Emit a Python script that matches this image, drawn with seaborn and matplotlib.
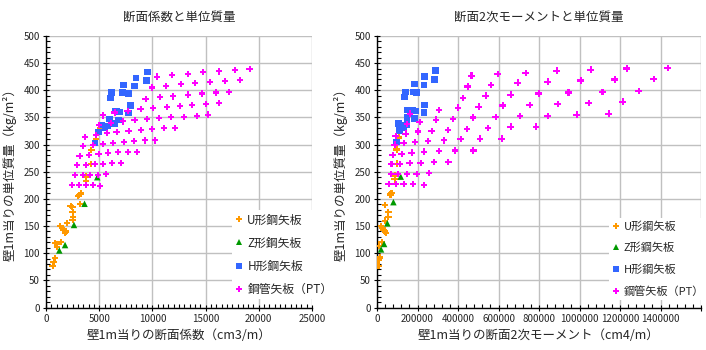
import matplotlib
matplotlib.use('Agg')
import matplotlib.pyplot as plt
from matplotlib.ticker import MultipleLocator
import numpy as np
import pandas as pd
import seaborn as sns

# 系列名
types = ['U形鋼矢板', 'Z形鋼矢板', 'H形鋼矢板', '鋼管矢板（PT）']

# ---- 断面係数 (cm3/m) と単位質量 (kg/m2) ----
u_z = [630, 720, 850, 1030, 1060, 850, 1410, 1350, 1500, 1630, 1790, 1880, 1970,
       2320, 2470, 2500, 2520, 2500, 3000, 3100, 3190, 3270, 3760, 3760, 4260,
       4260, 4700, 5100]
u_z_mass = [76, 84, 91, 111, 117, 119, 121, 150, 146, 142, 137, 140, 156,
            187, 185, 176, 167, 161, 205, 207, 191, 210, 233, 241, 264,
            290, 311, 331]

z_z = [1250, 1790, 2630, 3620, 4820]
z_z_mass = [105, 115, 152, 191, 240]

h_z = [9560, 8460, 9460, 7300, 8330, 6170, 7200, 7770, 6080, 7960, 6480,
       6640, 6920, 7770, 5990, 6830, 6450, 5240, 5830, 5550, 4950, 4600]
h_z_mass = [434, 423, 418, 410, 408, 396, 396, 394, 386, 372, 362,
            362, 360, 358, 347, 345, 339, 336, 334, 331, 323, 303]

pt_z = [10430, 11840, 13350, 14760, 16260, 17760, 19140,
        9960, 11280, 12690, 14000, 15410, 16820, 18230,
        9370, 10710, 11940, 13350, 14660, 15980, 17200,
        5360, 6450, 7680, 8900, 10060, 11370, 12590, 13720, 15040, 16260,
        4980, 6110, 7230, 8330, 9490, 10620, 11750, 12970, 14190, 15225,
        3670, 4700, 5730, 6640, 7770, 8930, 9960, 11090, 12120,
        3480, 4420, 5360, 6300, 7330, 8270, 9300, 10240,
        3160, 4040, 4950, 5830, 6770, 7710, 8550,
        2910, 3760, 4570, 5360, 6200, 7050,
        2720, 3480, 4130, 4890, 5640,
        2440, 3100, 3760, 4420, 5080]
pt_z_mass = [425, 428, 430, 434, 435, 437, 439,
             405, 408, 412, 413, 415, 417, 419,
             384, 388, 389, 392, 394, 396, 397,
             354, 359, 362, 366, 367, 369, 371, 373, 375, 377,
             336, 340, 343, 345, 347, 349, 351, 351, 353, 355,
             314, 318, 321, 323, 325, 327, 329, 331, 331,
             297, 299, 301, 303, 305, 307, 308, 308,
             279, 281, 283, 285, 286, 286, 286,
             262, 262, 264, 264, 266, 266,
             244, 244, 244, 244, 246,
             226, 226, 226, 226, 224]

# ---- 断面2次モーメント (cm4/m) と単位質量 (kg/m2) ----
u_i = [7000, 7000, 15000, 10000, 23000, 40000, 31000, 20000, 28000, 45000, 40000,
       56000, 56000, 40000, 67000, 72000, 87000, 89000, 97000, 97000, 107000, 110000]
u_i_mass = [76, 87, 92, 113, 121, 140, 143, 150, 146, 137, 160,
            167, 176, 189, 208, 211, 236, 243, 265, 291, 313, 331]

z_i = [20000, 35000, 51000, 81000, 117000]
z_i_mass = [107, 117, 155, 194, 241]

h_i = [290000, 235000, 285000, 186000, 231000, 142000, 181000, 196000, 137000,
       235000, 147000, 176000, 191000, 231000, 147000, 186000, 107000, 147000,
       117000, 132000, 112000, 97000]
h_i_mass = [436, 425, 420, 412, 410, 397, 397, 396, 388,
            373, 364, 364, 362, 359, 350, 348, 339, 337,
            335, 331, 326, 305]

pt_i = [467000, 596000, 734000, 887000, 1055000, 1233000, 1435000,
        448000, 562000, 695000, 843000, 1006000, 1174000, 1366000,
        425000, 537000, 660000, 798000, 946000, 1114000, 1292000,
        163000, 306000, 400000, 502000, 621000, 754000, 892000, 1045000, 1213000,
        147000, 211000, 291000, 375000, 474000, 586000, 705000, 843000, 986000, 1144000,
        92000, 142000, 202000, 270000, 351000, 444000, 547000, 660000, 784000,
        87000, 132000, 188000, 252000, 331000, 413000, 509000, 616000,
        77000, 122000, 171000, 232000, 306000, 385000, 476000,
        72000, 112000, 161000, 216000, 281000, 352000,
        68000, 102000, 147000, 196000, 257000,
        58000, 92000, 132000, 178000, 232000]
pt_i_mass = [427, 430, 432, 436, 438, 440, 441,
             407, 410, 414, 416, 418, 420, 421,
             386, 390, 392, 394, 396, 397, 399,
             357, 364, 368, 370, 372, 373, 375, 377, 379,
             338, 342, 346, 347, 350, 351, 353, 353, 355, 357,
             316, 320, 324, 325, 327, 329, 331, 333, 333,
             300, 303, 305, 307, 308, 310, 311, 311,
             281, 283, 285, 287, 288, 289, 289,
             264, 264, 266, 266, 268, 268,
             246, 246, 246, 246, 248,
             227, 227, 227, 227, 226]

x_ticks_z = [0, 5000, 10000, 15000, 20000, 25000]
x_ticks_i = [0, 200000, 400000, 600000, 800000, 1000000, 1200000, 1400000, 1600000]
y_ticks = list(range(0, 501, 50))


def make_df(series):
    frames = []
    for name, (xs, ys) in zip(types, series):
        frames.append(pd.DataFrame({'x': xs, 'mass': ys, 'type': name}))
    return pd.concat(frames, ignore_index=True)


df_z = make_df([(u_z, u_z_mass), (z_z, z_z_mass), (h_z, h_z_mass), (pt_z, pt_z_mass)])
df_i = make_df([(u_i, u_i_mass), (z_i, z_i_mass), (h_i, h_i_mass), (pt_i, pt_i_mass)])

sns.set_theme(style='white')
plt.rcParams['font.family'] = ['Noto Sans CJK JP', 'DejaVu Sans']

palette = {'U形鋼矢板': '#FF9900', 'Z形鋼矢板': '#009900',
           'H形鋼矢板': '#3366FF', '鋼管矢板（PT）': '#FF00FF'}
markers = {'U形鋼矢板': 'P', 'Z形鋼矢板': '^',
           'H形鋼矢板': 's', '鋼管矢板（PT）': 'P'}

W, H = 706, 350
fig = plt.figure(figsize=(W / 100, H / 100), dpi=100)
ax1 = fig.add_axes([46 / W, 1 - 307.5 / H, 266 / W, 271.5 / H])
ax2 = fig.add_axes([377 / W, 1 - 307.5 / H, 324 / W, 271.5 / H])

ylabel = '壁1m当りの単位質量（kg/m²）'
setups = [
    (ax1, df_z, 25000, x_ticks_z, 500, '断面係数と単位質量', '壁1m当りの断面係数（cm3/m）', 0.677, 8.5, 0.86),
    (ax2, df_i, 1600000, x_ticks_i, 40000, '断面2次モーメントと単位質量', '壁1m当りの断面2次モーメント（cm4/m）', 0.70, 8, 0.98),
]

for ax, df, xmax, xt, minor, title, xlabel, leg_x, leg_fs, leg_sp in setups:
    sns.scatterplot(data=df, x='x', y='mass', hue='type', style='type',
                    hue_order=types, style_order=types, palette=palette,
                    markers=markers, s=22, linewidth=0, ax=ax, zorder=3)
    ax.set_xlim(0, xmax)
    ax.set_ylim(0, 500)
    ax.set_xticks(xt)
    labels = [str(v) for v in xt]
    if xmax == 1600000:
        labels[-1] = ''
    ax.set_xticklabels(labels)
    ax.set_yticks(y_ticks)
    ax.xaxis.set_minor_locator(MultipleLocator(minor))
    ax.yaxis.set_minor_locator(MultipleLocator(10))
    ax.grid(True, which='major', color='#C0C0C0', linewidth=1)
    ax.set_axisbelow(True)
    for side in ['top', 'right']:
        ax.spines[side].set_visible(False)
    for side in ['left', 'bottom']:
        ax.spines[side].set_color('black')
        ax.spines[side].set_linewidth(1)
    ax.tick_params(which='major', direction='inout', length=5, width=0.8,
                   labelsize=7, color='black', pad=2,
                   left=True, bottom=True)
    ax.tick_params(which='minor', direction='in', length=3, width=0.8,
                   color='black', left=True, bottom=True)
    ax.set_title(title, fontsize=9, pad=11)
    ax.set_xlabel(xlabel, fontsize=9, labelpad=4)
    ax.set_ylabel(ylabel, fontsize=9, labelpad=5)

    handles, labs = ax.get_legend_handles_labels()
    ax.legend(handles, labs, loc='lower left', bbox_to_anchor=(leg_x, 0.008),
              frameon=True, facecolor='white', edgecolor='none', framealpha=1,
              fancybox=False, fontsize=leg_fs, labelspacing=leg_sp, handlelength=0.6,
              handletextpad=0.4, borderpad=0.3, markerscale=0.8)

fig.savefig('out.png', dpi=100)
